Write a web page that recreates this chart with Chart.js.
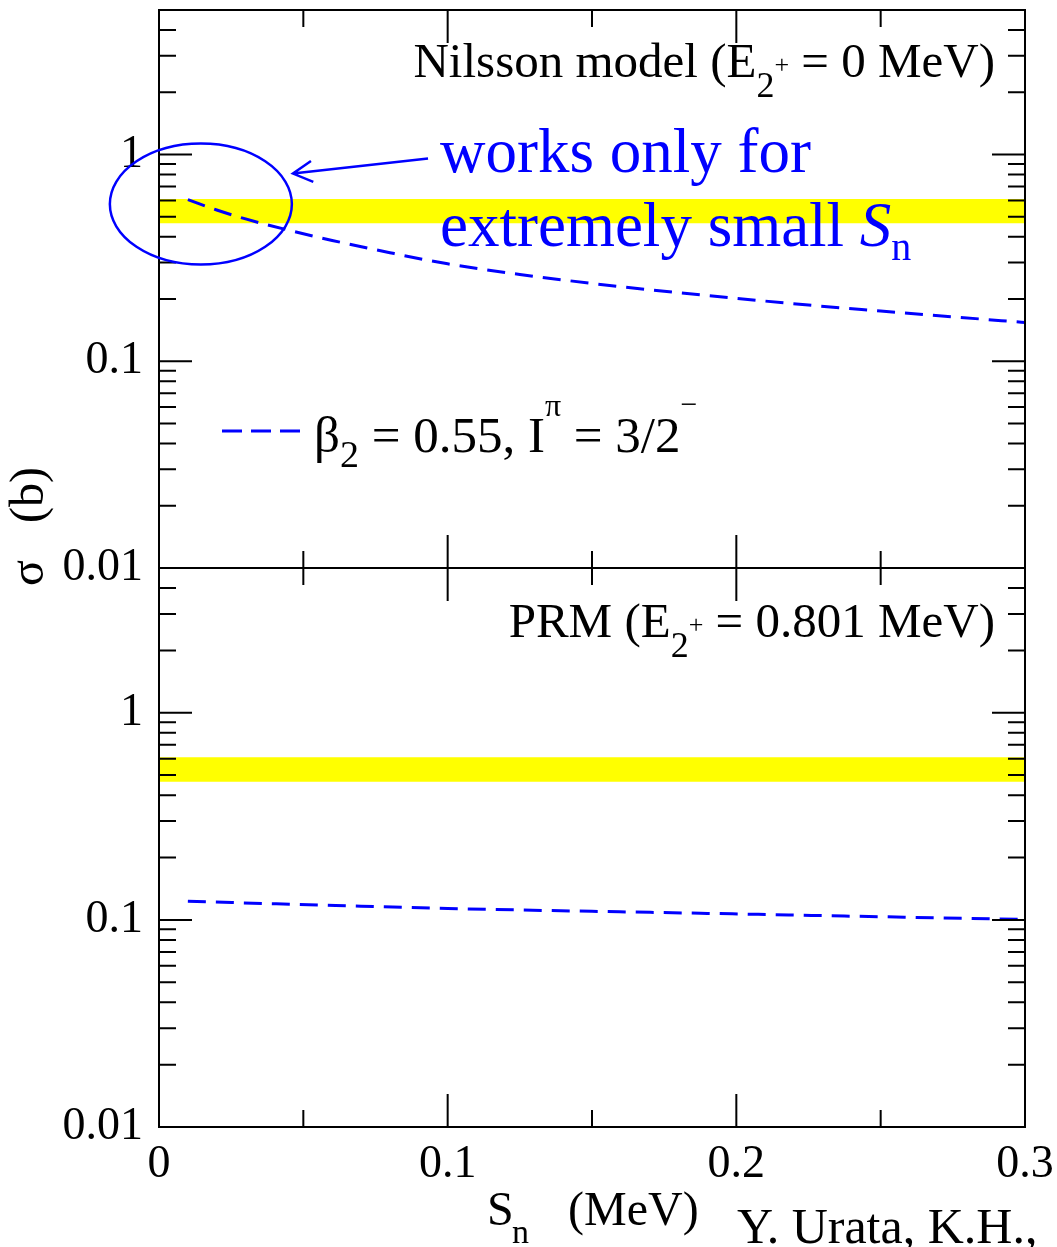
<!DOCTYPE html>
<html lang="en">
<head>
<meta charset="UTF-8">
<title>Cross section vs S_n</title>
<script src="https://cdn.jsdelivr.net/npm/chart.js"></script>
<style>
    body, html {
        margin: 0;
        padding: 0;
        background: #fff;
    }
    #wrap {
        position: relative;
        width: 1057px;
        height: 1247px;
        overflow: hidden;
    }
    canvas {
        position: absolute;
        left: 0;
    }
    #topChart { top: 0; }
    #bottomChart { top: 540px; }
</style>
</head>
<body>
<div id="wrap">
    <canvas id="topChart" width="1057" height="600"></canvas>
    <canvas id="bottomChart" width="1057" height="707"></canvas>
</div>
<script>
// Nilsson model curve (upper panel)
const snNilsson = [0.01, 0.02, 0.03, 0.045, 0.06, 0.08, 0.1, 0.125, 0.15, 0.175, 0.2, 0.225, 0.25, 0.275, 0.3];
const sigmaNilsson = [0.605, 0.539, 0.488, 0.43, 0.384, 0.335, 0.296, 0.263, 0.238, 0.218, 0.2015, 0.187, 0.175, 0.164, 0.154];

// PRM curve (lower panel)
const snPRM = [0.01, 0.055, 0.1, 0.15, 0.19, 0.24, 0.3];
const sigmaPRM = [0.123, 0.118, 0.1135, 0.110, 0.1075, 0.1042, 0.1005];

// experimental band
const bandSn = [0, 0.3];
const bandLow = [0.465, 0.465];
const bandHigh = [0.61, 0.61];

// axes
const xMajorTicks = [0, 0.1, 0.2, 0.3];
const xMinorTicks = [0.05, 0.15, 0.25];
const xTickLabels = ['0', '0.1', '0.2', '0.3'];
const yMajorTicks = [0.01, 0.1, 1];
const yMinorTicks = [0.02, 0.03, 0.04, 0.05, 0.06, 0.07, 0.08, 0.09,
                     0.2, 0.3, 0.4, 0.5, 0.6, 0.7, 0.8, 0.9, 2, 3, 4];
const yTickLabels = ['0.01', '0.1', '1'];
const yMin = 0.01, yMax = 5;

const SERIF = "'Liberation Serif', 'DejaVu Serif', serif";
const BLUE = '#0000ff';
const YELLOW = '#ffff00';

Chart.defaults.font.family = SERIF;
Chart.defaults.color = '#000';

function pts(xs, ys) {
    return xs.map((x, i) => ({x: x, y: ys[i]}));
}

function fontOf(p) {
    return (p.italic ? 'italic ' : '') + p.s + 'px ' + SERIF;
}

// draws a run of text pieces with their own sizes and baseline shifts
function drawRich(ctx, parts, x, y, align) {
    let w = 0;
    parts.forEach(p => { ctx.font = fontOf(p); w += ctx.measureText(p.t).width; });
    let cx = align === 'right' ? x - w : x;
    ctx.textAlign = 'left';
    ctx.textBaseline = 'alphabetic';
    parts.forEach(p => {
        ctx.font = fontOf(p);
        ctx.fillText(p.t, cx, y + (p.dy || 0));
        cx += ctx.measureText(p.t).width;
    });
}

// frame with inward ticks on all four sides
const frameTicks = {
    id: 'frameTicks',
    afterDatasetsDraw(chart) {
        const {ctx, chartArea: a, scales: {x, y}} = chart;
        ctx.save();
        ctx.strokeStyle = '#000';
        ctx.lineWidth = 2;
        ctx.beginPath();
        const xt = (vals, len) => vals.forEach(v => {
            const px = x.getPixelForValue(v);
            ctx.moveTo(px, a.bottom); ctx.lineTo(px, a.bottom - len);
            ctx.moveTo(px, a.top); ctx.lineTo(px, a.top + len);
        });
        const yt = (vals, len) => vals.forEach(v => {
            const py = y.getPixelForValue(v);
            ctx.moveTo(a.left, py); ctx.lineTo(a.left + len, py);
            ctx.moveTo(a.right, py); ctx.lineTo(a.right - len, py);
        });
        xt(xMajorTicks, 33);
        xt(xMinorTicks, 17);
        yt(yMajorTicks, 33);
        yt(yMinorTicks, 17);
        ctx.stroke();
        ctx.strokeRect(a.left, a.top, a.right - a.left, a.bottom - a.top);
        ctx.restore();
    }
};

const topNotes = {
    id: 'topNotes',
    afterDraw(chart) {
        const {ctx, chartArea: a, scales: {x, y}} = chart;
        ctx.save();
        ctx.fillStyle = '#000';
        drawRich(ctx, [
            {t: 'Nilsson model (E', s: 49},
            {t: '2', s: 36, dy: 20},
            {t: '+', s: 26, dy: -4},
            {t: ' = 0 MeV)', s: 49}
        ], a.right - 30, a.top + 67, 'right');

        // legend
        ctx.strokeStyle = BLUE;
        ctx.lineWidth = 3;
        ctx.setLineDash([20, 9]);
        ctx.beginPath();
        ctx.moveTo(a.left + 63, a.top + 421);
        ctx.lineTo(a.left + 141, a.top + 421);
        ctx.stroke();
        ctx.setLineDash([]);
        drawRich(ctx, [
            {t: '\u03b2', s: 51},
            {t: '2', s: 38, dy: 15},
            {t: ' = 0.55, I', s: 51},
            {t: '\u03c0', s: 32, dy: -36},
            {t: ' = 3/2', s: 51},
            {t: '\u2212', s: 30, dy: -38}
        ], a.left + 155, a.top + 442, 'left');

        // y axis title, shared by both panels
        ctx.font = '48px ' + SERIF;
        ctx.textAlign = 'center';
        ctx.textBaseline = 'alphabetic';
        ctx.save();
        ctx.translate(43, 573);
        ctx.rotate(-Math.PI / 2);
        ctx.fillText('\u03c3', 0, 0);
        ctx.restore();
        ctx.save();
        ctx.translate(43, 495);
        ctx.rotate(-Math.PI / 2);
        ctx.fillText('(b)', 0, 0);
        ctx.restore();

        // ellipse round the small-S_n end and the arrow pointing at it
        ctx.strokeStyle = BLUE;
        ctx.lineWidth = 2.5;
        ctx.beginPath();
        ctx.ellipse(x.getPixelForValue(0.0145), y.getPixelForValue(0.576), 91, 60.5, 0, 0, Math.PI * 2);
        ctx.stroke();

        const tx = x.getPixelForValue(0.0932), ty = y.getPixelForValue(0.956);
        const hx = x.getPixelForValue(0.0464), hy = y.getPixelForValue(0.809);
        const ang = Math.atan2(ty - hy, tx - hx);
        ctx.beginPath();
        ctx.moveTo(tx, ty);
        ctx.lineTo(hx, hy);
        ctx.moveTo(hx + 22 * Math.cos(ang - 0.5), hy + 22 * Math.sin(ang - 0.5));
        ctx.lineTo(hx, hy);
        ctx.lineTo(hx + 22 * Math.cos(ang + 0.5), hy + 22 * Math.sin(ang + 0.5));
        ctx.stroke();

        ctx.fillStyle = BLUE;
        drawRich(ctx, [{t: 'works only for', s: 63}], a.left + 281, a.top + 162, 'left');
        drawRich(ctx, [
            {t: 'extremely small ', s: 63},
            {t: 'S', s: 63, italic: true},
            {t: 'n', s: 40, dy: 14}
        ], a.left + 281, a.top + 236, 'left');
        ctx.restore();
    }
};

const bottomNotes = {
    id: 'bottomNotes',
    afterDraw(chart) {
        const {ctx, chartArea: a} = chart;
        ctx.save();
        ctx.fillStyle = '#000';
        drawRich(ctx, [
            {t: 'PRM (E', s: 49},
            {t: '2', s: 36, dy: 20},
            {t: '+', s: 26, dy: -4},
            {t: ' = 0.801 MeV)', s: 49}
        ], a.right - 30, a.top + 69, 'right');

        // x axis title
        drawRich(ctx, [{t: 'S', s: 48}], a.left + 328, a.bottom + 98, 'left');
        drawRich(ctx, [{t: 'n', s: 34}], a.left + 353, a.bottom + 116, 'left');
        drawRich(ctx, [{t: '(MeV)', s: 48}], a.left + 409, a.bottom + 98, 'left');

        drawRich(ctx, [{t: 'Y. Urata, K.H.,', s: 50}], a.left + 578, a.bottom + 116, 'left');
        ctx.restore();
    }
};

function yScale() {
    return {
        type: 'logarithmic',
        min: yMin,
        max: yMax,
        grid: {display: false, drawTicks: false},
        border: {display: false},
        afterBuildTicks: s => { s.ticks = yMajorTicks.map(v => ({value: v})); },
        afterFit: s => { s.width = 159; s.paddingTop = 0; s.paddingBottom = 0; },
        ticks: {
            autoSkip: false,
            padding: 16,
            font: {size: 46},
            color: '#000',
            callback: (v, i) => yTickLabels[i]
        }
    };
}

function xScale(showLabels) {
    return {
        type: 'linear',
        min: 0,
        max: 0.3,
        grid: {display: false, drawTicks: false},
        border: {display: false},
        afterBuildTicks: s => { s.ticks = xMajorTicks.map(v => ({value: v})); },
        afterFit: s => {
            s.height = showLabels ? 120 : 0;
            s.paddingLeft = 0;
            s.paddingRight = 0;
        },
        ticks: {
            display: showLabels,
            autoSkip: false,
            maxRotation: 0,
            padding: 10,
            font: {size: 46},
            color: '#000',
            callback: (v, i) => xTickLabels[i]
        }
    };
}

function bandSets() {
    return [{
        data: pts(bandSn, bandHigh),
        borderWidth: 0,
        pointRadius: 0,
        backgroundColor: YELLOW,
        fill: '+1'
    }, {
        data: pts(bandSn, bandLow),
        borderWidth: 0,
        pointRadius: 0,
        fill: false
    }];
}

function curveSet(xs, ys) {
    return {
        data: pts(xs, ys),
        borderColor: BLUE,
        borderWidth: 3,
        borderDash: [18, 10],
        pointRadius: 0,
        fill: false,
        cubicInterpolationMode: 'monotone'
    };
}

const commonOptions = {
    responsive: false,
    animation: false,
    events: [],
    plugins: {legend: {display: false}, tooltip: {enabled: false}}
};

new Chart(document.getElementById('topChart'), {
    type: 'line',
    data: {datasets: [curveSet(snNilsson, sigmaNilsson)].concat(bandSets())},
    options: Object.assign({}, commonOptions, {
        layout: {padding: {left: 0, right: 32, top: 10, bottom: 32}},
        scales: {x: xScale(false), y: yScale()}
    }),
    plugins: [frameTicks, topNotes]
});

new Chart(document.getElementById('bottomChart'), {
    type: 'line',
    data: {datasets: [curveSet(snPRM, sigmaPRM)].concat(bandSets())},
    options: Object.assign({}, commonOptions, {
        layout: {padding: {left: 0, right: 32, top: 28, bottom: 0}},
        scales: {x: xScale(true), y: yScale()}
    }),
    plugins: [frameTicks, bottomNotes]
});
</script>
</body>
</html>
